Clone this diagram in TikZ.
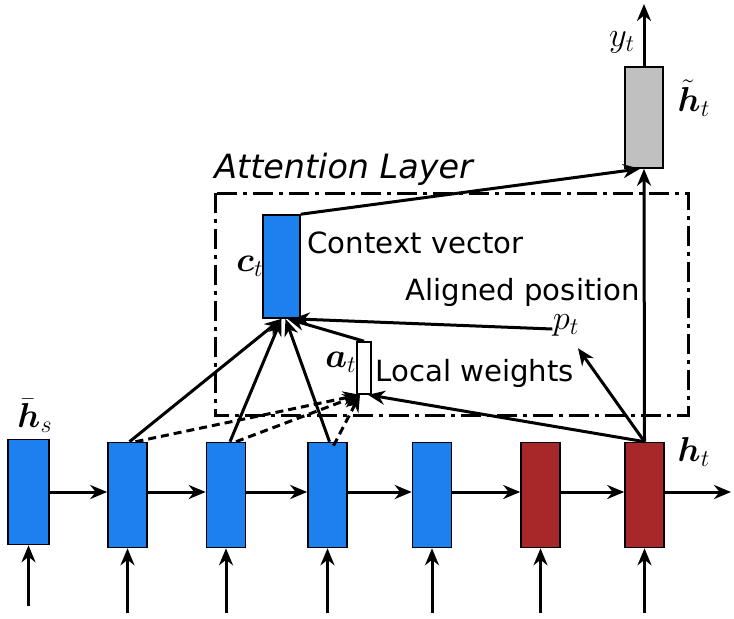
\documentclass[tikz,border=0pt]{standalone}
\usepackage{fontspec}
\usepackage{bm}
\newfontfamily\dejavu{DejaVu Sans}
\usetikzlibrary{arrows.meta}
\definecolor{cellblue}{RGB}{28,128,238}
\definecolor{cellred}{RGB}{168,40,42}
\definecolor{cellgray}{RGB}{192,192,192}
\tikzset{
  cell/.style={draw=black, line width=0.8pt, inner sep=0pt, minimum width=19.5pt, minimum height=52.5pt},
  bluecell/.style={cell, fill=cellblue},
  redcell/.style={cell, fill=cellred},
  conn/.style={line width=1.5pt, -{Stealth[length=8.5pt,width=7pt]}},
  dconn/.style={conn, dash pattern=on 4pt off 2.5pt},
  mathlbl/.style={font=\fontsize{17}{20}\selectfont, inner sep=0pt},
  txtlbl/.style={font=\dejavu\fontsize{14.6}{17}\selectfont, inner sep=0pt, anchor=base west}
}

\begin{document}
\begin{tikzpicture}[x=0.5pt, y=-0.5pt]
        \useasboundingbox (0,0) rectangle (734,618);

        % encoder and decoder states
        \node[bluecell, minimum width=20.5pt] (c1) at (28.5,492) {};
        \node[bluecell] (c2) at (127.5,495) {};
        \node[bluecell] (c3) at (226,495) {};
        \node[bluecell] (c4) at (327.5,495) {};
        \node[bluecell] (c5) at (432,495) {};
        \node[redcell] (c6) at (540.5,495) {};
        \node[redcell] (c7) at (644.5,495) {};

        \node[mathlbl] at (35,416) {$\bar{\bm h}_s$};
        \node[mathlbl] at (694,452) {$\bm h_t$};

        % recurrent arrows
        \draw[conn] (c1.east |- 0,492) -- (c2.west |- 0,492);
        \draw[conn] (c2.east |- 0,492) -- (c3.west |- 0,492);
        \draw[conn] (c3.east |- 0,492) -- (c4.west |- 0,492);
        \draw[conn] (c4.east |- 0,492) -- (c5.west |- 0,492);
        \draw[conn] (c5.east |- 0,492) -- (c6.west |- 0,492);
        \draw[conn] (c6.east |- 0,492) -- (c7.west |- 0,492);
        \coordinate (hout) at (731,492);
        \draw[conn] (c7.east |- 0,492) -- (hout);

        % inputs
        \coordinate (in1) at (28.5,606);
        \coordinate (in2) at (127.5,613);
        \coordinate (in3) at (226,613);
        \coordinate (in4) at (327.5,613);
        \coordinate (in5) at (432,613);
        \coordinate (in6) at (540.5,613);
        \coordinate (in7) at (644.5,613);
        \draw[conn] (in1) -- (c1.south);
        \draw[conn] (in2) -- (c2.south);
        \draw[conn] (in3) -- (c3.south);
        \draw[conn] (in4) -- (c4.south);
        \draw[conn] (in5) -- (c5.south);
        \draw[conn] (in6) -- (c6.south);
        \draw[conn] (in7) -- (c7.south);

        % attention layer
        \draw[line width=1.5pt, dash pattern=on 10pt off 3pt on 2pt off 3pt] (215,193) rectangle (688,415);
        \node[font=\dejavu\itshape\fontsize{16.7}{20}\selectfont, inner sep=0pt, anchor=base west] at (214,178) {Attention Layer};

        \node[bluecell, minimum width=18.5pt, minimum height=51.5pt] (ct) at (281.5,266.5) {};
        \node[cell, fill=white, minimum width=7pt, minimum height=26pt] (at) at (364,368) {};
        \node[mathlbl] at (250,266) {$\bm c_t$};
        \node[mathlbl] at (341,362) {$\bm a_t$};
        \node[mathlbl] (pt) at (566,325) {$p_t$};

        \node[txtlbl] at (307,253) {Context vector};
        \node[txtlbl] at (405,300) {Aligned position};
        \node[txtlbl] at (375,381) {Local weights};

        % attentional hidden state
        \node[cell, fill=cellgray, minimum width=19pt, minimum height=50.5pt] (hh) at (644,117.5) {};
        \node[mathlbl] at (694,98) {$\tilde{\bm h}_t$};
        \node[mathlbl] at (622,42) {$y_t$};
        \coordinate (yout) at (644,4);
        \draw[conn] (hh.north) -- (yout);

        % connections
        \draw[conn] (ct.north east) -- ([xshift=-2pt]hh.south);
        \draw[conn] (c7.north) -- (hh.south);
        \draw[conn] (c7.north) -- ([xshift=6pt,yshift=-6pt]pt.south);
        \draw[conn] (c7.north) -- ([xshift=2pt]at.south);
        \draw[conn] ([yshift=-2pt]pt.west) -- ([xshift=-4pt]ct.south east);
        \draw[conn] (at.north) -- ([xshift=3pt]ct.south);
        \draw[conn] ([xshift=1pt]c2.north) -- (ct.south);
        \draw[conn] ([xshift=2pt]c3.north) -- (ct.south);
        \draw[conn] ([xshift=1pt]c4.north) -- ([xshift=2pt]ct.south);
        \draw[dconn] ([xshift=4pt]c2.north) -- ([xshift=-2pt]at.south);
        \draw[dconn] ([xshift=5pt]c3.north) -- ([xshift=-2pt]at.south);
        \draw[dconn] ([xshift=3pt,yshift=-2pt]c4.north) -- ([xshift=-2pt]at.south);
    \end{tikzpicture}
\end{document}
